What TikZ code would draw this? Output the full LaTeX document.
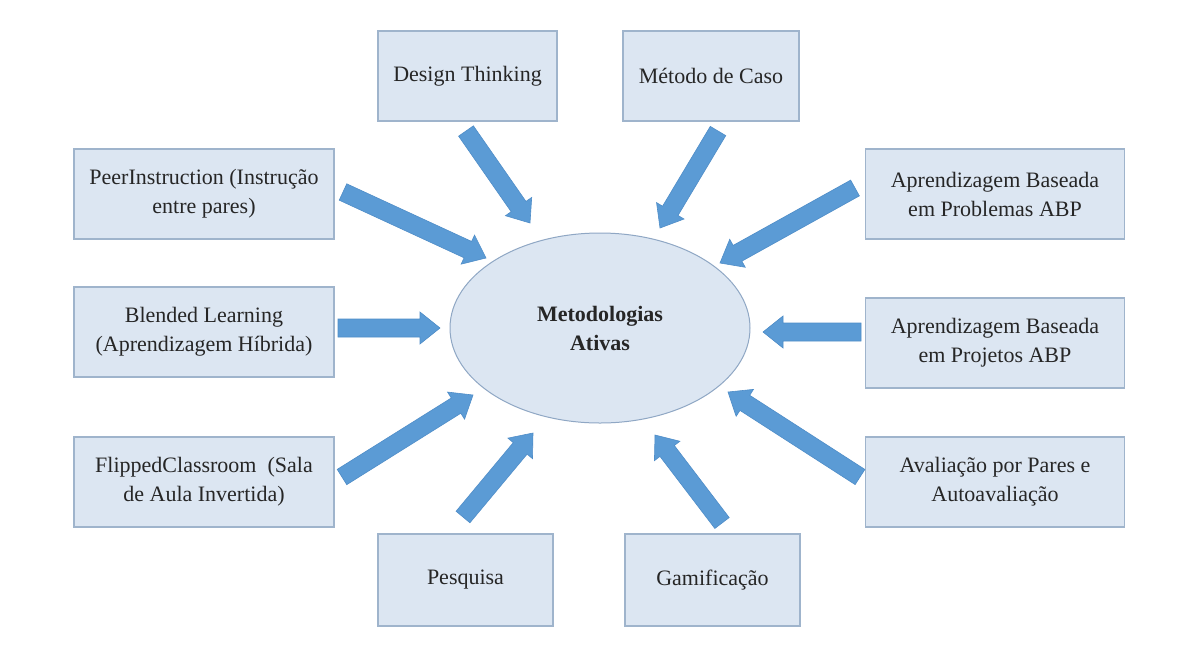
\documentclass[tikz,border=0pt]{standalone}
\usepackage{fontspec}
\setmainfont{Liberation Serif}
\usetikzlibrary{calc,shapes.geometric}
\definecolor{boxfill}{HTML}{DCE6F2}
\definecolor{boxedge}{HTML}{9FB4CC}
\definecolor{elledge}{HTML}{8FA7C4}
\definecolor{arrowblue}{HTML}{5B9BD5}
\definecolor{arrowedge}{HTML}{4F8DC8}
\definecolor{txt}{HTML}{262626}
\newcommand\blockarrow[2]{%
  \path[barrow] let \p1=($(#2)-(#1)$), \n1={atan2(\y1,\x1)}, \n2={veclen(\x1,\y1)} in
    ($(#1)+({\n1+90}:9pt)$)
    -- ($(#1)+(\n1:{\n2-20pt})+({\n1+90}:9pt)$)
    -- ($(#1)+(\n1:{\n2-20pt})+({\n1+90}:16pt)$)
    -- (#2)
    -- ($(#1)+(\n1:{\n2-20pt})+({\n1-90}:16pt)$)
    -- ($(#1)+(\n1:{\n2-20pt})+({\n1-90}:9pt)$)
    -- ($(#1)+({\n1-90}:9pt)$) -- cycle;}
\begin{document}
\begin{tikzpicture}[x=1pt,y=-1pt,
  every node/.style={font=\fontsize{22}{29}\selectfont, text=txt},
  box/.style={draw=boxedge, line width=1.6pt, fill=boxfill, align=center, inner sep=0pt},
  hub/.style={ellipse, draw=elledge, line width=1pt, fill=boxfill, align=center,
    minimum width=300pt, minimum height=190pt, inner sep=0pt, font=\fontsize{22}{29}\selectfont\bfseries},
  barrow/.style={fill=arrowblue, draw=arrowedge, line width=0.6pt, line join=miter}]
\useasboundingbox[fill=white] (0,0) rectangle (1178,670);

\node[hub] (c) at (600,328) {Metodologias\\Ativas};

\node[box, minimum width=179pt, minimum height=90pt] (dt) at (467.5,76) {Design Thinking};
\node[box, minimum width=176pt, minimum height=90pt] (mc) at (711,76) {Método de Caso};
\node[box, minimum width=260pt, minimum height=90pt] (pi) at (204,194) {PeerInstruction (Instrução\\entre pares)};
\node[box, minimum width=260pt, minimum height=90pt] (bl) at (204,332) {Blended Learning\\(Aprendizagem Híbrida)};
\node[box, minimum width=260pt, minimum height=90pt] (fc) at (204,482) {FlippedClassroom\ \ (Sala\\de Aula Invertida)};
\node[box, minimum width=175pt, minimum height=92pt] (pq) at (465.5,580) {Pesquisa};
\node[box, minimum width=175pt, minimum height=92pt] (gm) at (712.5,580) {Gamificação};
\node[box, minimum width=259pt, minimum height=90pt] (apb) at (995,194) {Aprendizagem Baseada\\em Problemas ABP};
\node[box, minimum width=259pt, minimum height=90pt] (apj) at (995,343) {Aprendizagem Baseada\\em Projetos ABP};
\node[box, minimum width=259pt, minimum height=90pt] (av) at (995,482) {Avaliação por Pares e\\Autoavaliação};

% arrow ends
\coordinate (dt-t) at (466,131);  \coordinate (dt-h) at (530,223);
\coordinate (mc-t) at (718,131);  \coordinate (mc-h) at (660,228);
\coordinate (pi-t) at (343,192);  \coordinate (pi-h) at (486,258);
\coordinate (apb-t) at (855,188); \coordinate (apb-h) at (720,263);
\coordinate (bl-t) at (338,328);  \coordinate (bl-h) at (440,328);
\coordinate (apj-t) at (861,332); \coordinate (apj-h) at (763,332);
\coordinate (fc-t) at (342,477);  \coordinate (fc-h) at (473,395);
\coordinate (pq-t) at (463,517);  \coordinate (pq-h) at (533,433);
\coordinate (gm-t) at (722,523);  \coordinate (gm-h) at (655,435);
\coordinate (av-t) at (860,477);  \coordinate (av-h) at (728,392);

\blockarrow{dt-t}{dt-h}
\blockarrow{mc-t}{mc-h}
\blockarrow{pi-t}{pi-h}
\blockarrow{apb-t}{apb-h}
\blockarrow{bl-t}{bl-h}
\blockarrow{apj-t}{apj-h}
\blockarrow{fc-t}{fc-h}
\blockarrow{pq-t}{pq-h}
\blockarrow{gm-t}{gm-h}
\blockarrow{av-t}{av-h}
\end{tikzpicture}
\end{document}
